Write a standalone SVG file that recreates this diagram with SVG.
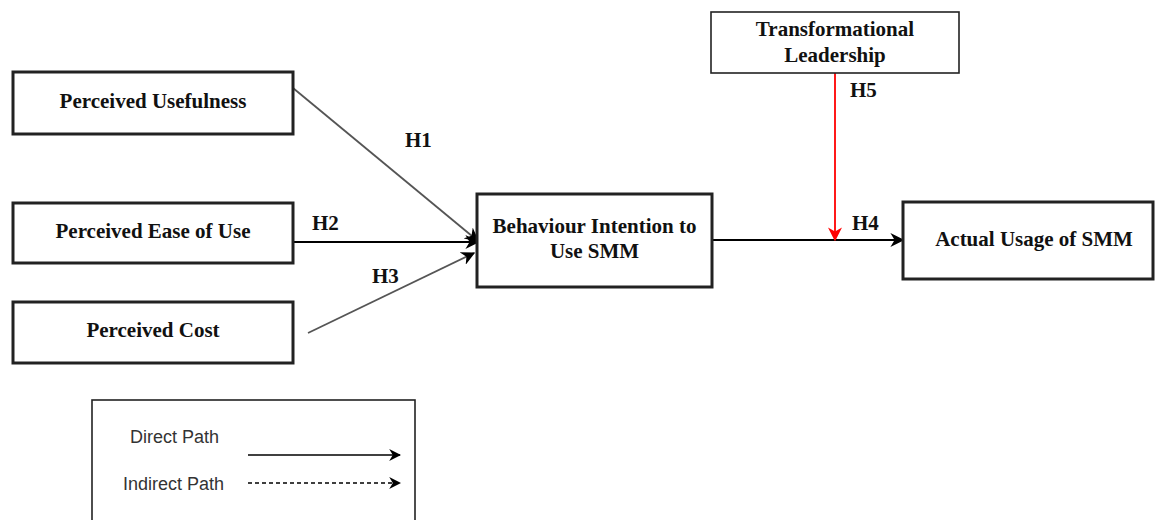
<svg xmlns="http://www.w3.org/2000/svg" width="1160" height="520" viewBox="0 0 1160 520">
<style>
.box{fill:#fff;stroke:#222;stroke-width:3}
.thin{fill:#fff;stroke:#222;stroke-width:1.6}
.t{font-family:"Liberation Serif","Times New Roman",serif;font-weight:bold;font-size:21px;fill:#111;text-anchor:middle}
.h{font-family:"Liberation Serif","Times New Roman",serif;font-weight:bold;font-size:21px;fill:#111}
.lg{font-family:"Liberation Sans",Arial,sans-serif;font-size:18px;fill:#333}
.c{fill:none;stroke-width:1.8}
</style>
<defs>
<marker id="ab" viewBox="0 0 10 10" refX="9" refY="5" markerWidth="12" markerHeight="12" markerUnits="userSpaceOnUse" orient="auto"><path d="M0,0 L10,5 L0,10 L3,5 Z" fill="#000"/></marker>
<marker id="ab2" viewBox="0 0 10 10" refX="9" refY="5" markerWidth="14" markerHeight="14" markerUnits="userSpaceOnUse" orient="auto"><path d="M0,0 L10,5 L0,10 L3,5 Z" fill="#000"/></marker>
<marker id="ar" viewBox="0 0 10 10" refX="9" refY="5" markerWidth="14" markerHeight="14" markerUnits="userSpaceOnUse" orient="auto"><path d="M0,0 L10,5 L0,10 L3,5 Z" fill="#f00"/></marker>
</defs>
<g id="connectors">
<line class="c" x1="293" y1="88" x2="478" y2="241" stroke="#555" marker-end="url(#ab2)"/>
<line class="c" x1="293" y1="242" x2="478" y2="242" stroke="#000" marker-end="url(#ab2)"/>
<line class="c" x1="308" y1="333" x2="474" y2="253" stroke="#555" marker-end="url(#ab2)"/>
<line class="c" x1="712" y1="240" x2="903" y2="240" stroke="#000" marker-end="url(#ab2)"/>
<line class="c" x1="835" y1="73" x2="835" y2="240" stroke="#f00" marker-end="url(#ar)"/>
<text class="h" x="405" y="147">H1</text>
<text class="h" x="312" y="230">H2</text>
<text class="h" x="372" y="283">H3</text>
<text class="h" x="852" y="230">H4</text>
<text class="h" x="850" y="97">H5</text>
</g>
<g id="pu"><rect class="box" x="13" y="72" width="280" height="62"/><text class="t" x="153" y="108">Perceived Usefulness</text></g>
<g id="peou"><rect class="box" x="13" y="203" width="280" height="60"/><text class="t" x="153" y="238">Perceived Ease of Use</text></g>
<g id="pc"><rect class="box" x="13" y="302" width="280" height="61"/><text class="t" x="153" y="337">Perceived Cost</text></g>
<g id="bi"><rect class="box" x="477" y="194" width="235" height="93"/><text class="t" x="594.5" y="233">Behaviour Intention to</text><text class="t" x="594.5" y="258">Use SMM</text></g>
<g id="tl"><rect class="thin" x="711" y="12" width="248" height="61"/><text class="t" x="835" y="36">Transformational</text><text class="t" x="835" y="62">Leadership</text></g>
<g id="au"><rect class="box" x="903" y="202" width="250" height="77"/><text class="t" x="1034" y="246">Actual Usage of SMM</text></g>
<g id="legend">
<rect x="92" y="400" width="323" height="140" fill="#fff" stroke="#222" stroke-width="1.6"/>
<text class="lg" x="130" y="443">Direct Path</text>
<text class="lg" x="123" y="490">Indirect Path</text>
<line x1="248" y1="455" x2="400" y2="455" stroke="#000" stroke-width="1.6" marker-end="url(#ab)"/>
<line x1="248" y1="483" x2="400" y2="483" stroke="#000" stroke-width="1.6" stroke-dasharray="4,3" marker-end="url(#ab)"/>
</g>
</svg>
